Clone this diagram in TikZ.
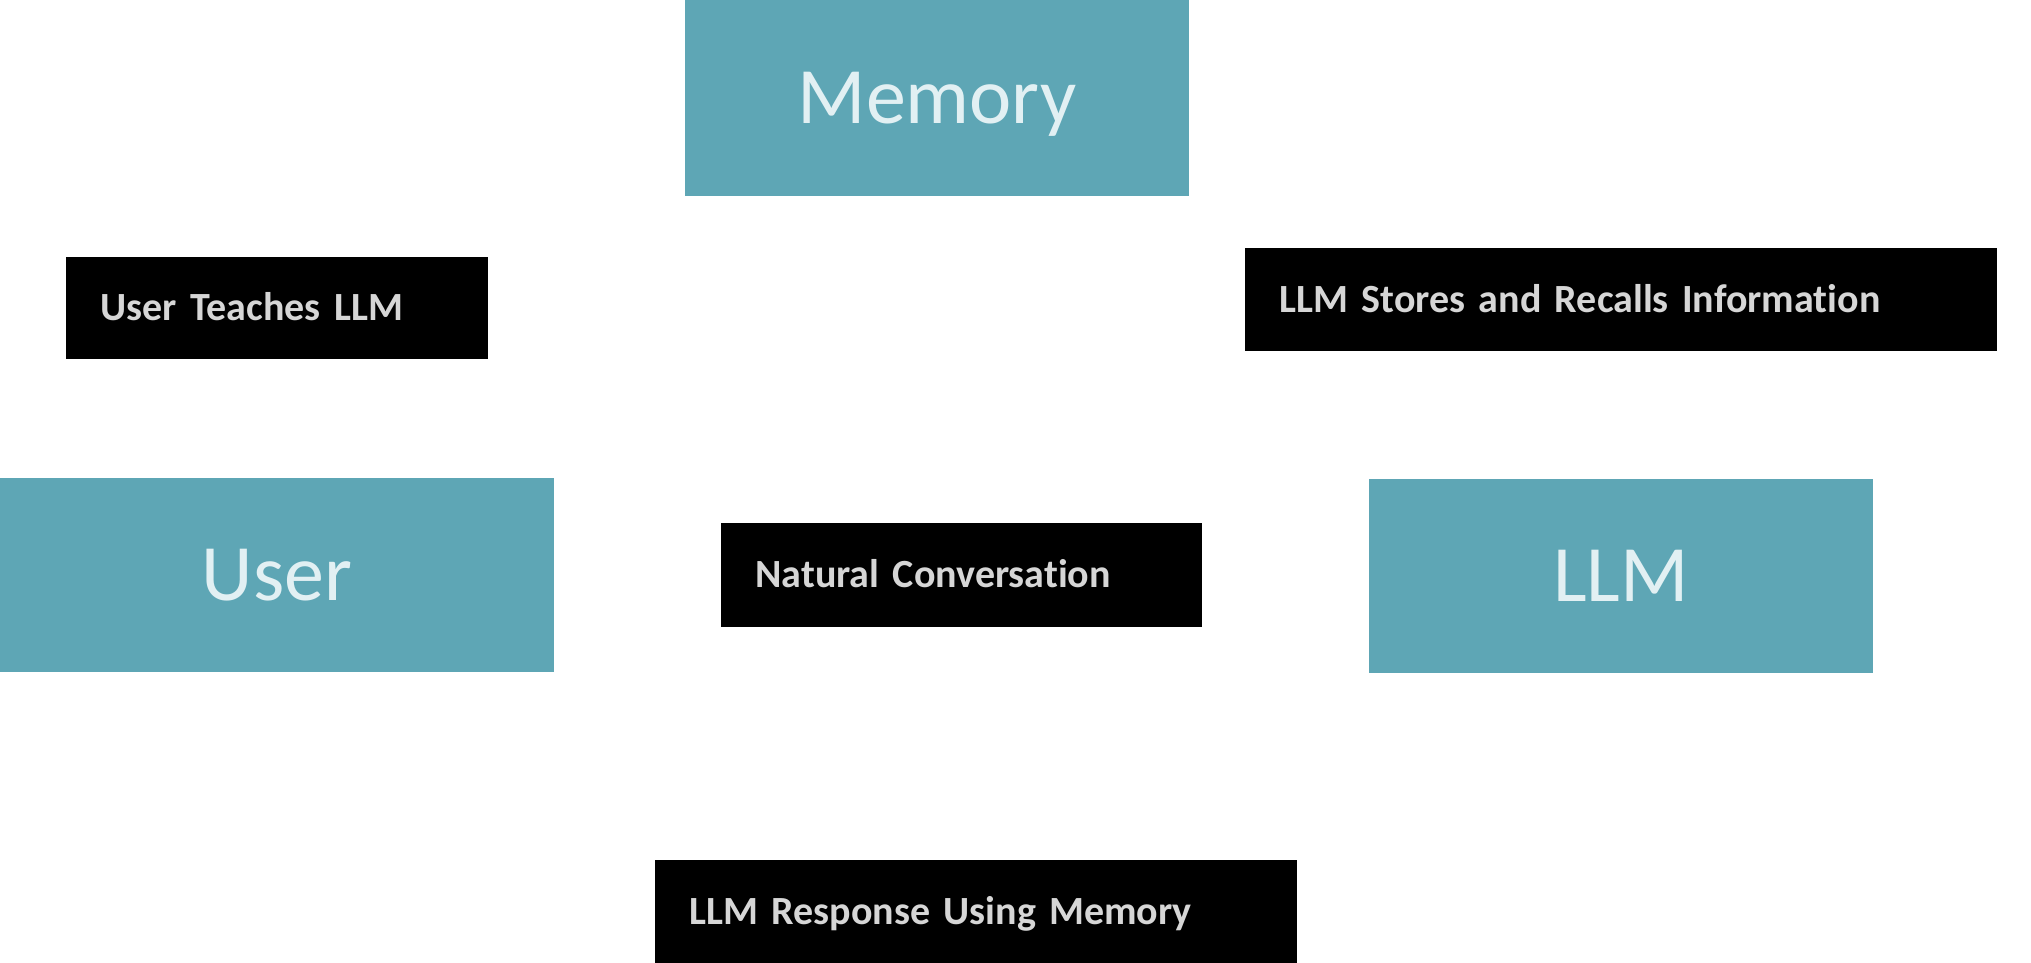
\documentclass[tikz,border=0pt]{standalone}
\usepackage{fontspec}
\setmainfont{Carlito}[Ligatures=NoCommon, WordSpace=0.85]

\definecolor{tealbox}{RGB}{94,166,181}
\definecolor{tealtext}{RGB}{226,240,243}
\definecolor{labeltext}{RGB}{214,214,214}

\tikzset{every picture/.style={line width=0.75pt}}
\tikzset{
  mainbox/.style={fill=tealbox, text=tealtext, inner sep=0pt, text height=38.6pt, text depth=0pt, font=\fontsize{60}{66}\selectfont},
  labelbox/.style={fill=black, text=labeltext, inner xsep=26pt, inner ysep=0pt, text height=19.3pt, text depth=0pt, align=left, font=\fontsize{30}{34}\selectfont\bfseries}
}

\begin{document}
\begin{tikzpicture}[x=0.75pt,y=0.75pt,yscale=-1,xscale=1]
%set diagram left start at 0, and has height of 963
\useasboundingbox (0,0) rectangle (2031,963);

%Shape: Rectangle [id:memory] 
\node [mainbox, minimum width=378pt, minimum height=147pt] (memory) at (937,98) {Memory};
%Shape: Rectangle [id:user] 
\node [mainbox, minimum width=415.5pt, minimum height=145.5pt] (user) at (277,575) {User};
%Shape: Rectangle [id:llm] 
\node [mainbox, minimum width=378pt, minimum height=146pt] (llm) at (1621,576) {LLM};

% Text Node
\node [labelbox, minimum width=316.5pt, minimum height=76.5pt, text width=264.5pt] (teaches) at (277,308) {User Teaches LLM};
% Text Node
\node [labelbox, minimum width=564pt, minimum height=77pt, text width=512pt] (stores) at (1621,299.5) {LLM Stores and Recalls Information};
% Text Node
\node [labelbox, minimum width=361pt, minimum height=78pt, text width=309pt] (conversation) at (961.5,575) {Natural Conversation};
% Text Node
\node [labelbox, minimum width=481.5pt, minimum height=77pt, text width=429.5pt] (response) at (976,911.5) {LLM Response Using Memory};

\end{tikzpicture}
\end{document}
